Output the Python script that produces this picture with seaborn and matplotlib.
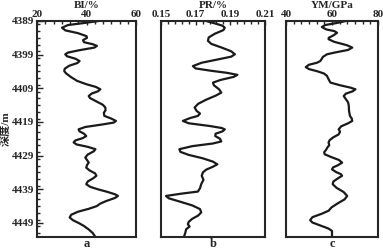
import numpy as np
import pandas as pd
import matplotlib
matplotlib.use("Agg")
import matplotlib.pyplot as plt
from matplotlib.ticker import AutoMinorLocator, MultipleLocator
import seaborn as sns

# depth readings (m) and log values
bi_depth = [4389.0, 4389.6, 4390.2, 4391.0, 4391.8, 4392.6, 4393.5, 4394.0, 4394.7, 4395.3,
            4395.9, 4396.4, 4396.9, 4397.7, 4398.4, 4398.9, 4399.5, 4400.2, 4400.9, 4401.5,
            4402.3, 4403.2, 4403.9, 4404.6, 4405.7, 4406.8, 4407.8, 4408.6, 4409.3, 4409.9,
            4410.6, 4411.3, 4411.9, 4412.9, 4413.9, 4414.7, 4415.5, 4416.3, 4417.2, 4418.0,
            4418.7, 4419.2, 4419.8, 4420.5, 4421.2, 4421.8, 4422.5, 4423.2, 4423.8, 4424.5,
            4425.1, 4425.7, 4426.4, 4427.1, 4427.7, 4428.7, 4429.6, 4430.3, 4431.1, 4431.8,
            4432.6, 4433.4, 4434.3, 4435.0, 4435.7, 4436.7, 4437.5, 4438.3, 4439.0, 4439.8,
            4440.5, 4441.0, 4441.6, 4442.5, 4443.3, 4444.0, 4444.8, 4445.7, 4446.6, 4447.4,
            4448.2, 4449.1, 4449.9, 4450.9, 4452.0, 4453.2]
bi_vals = [45.0, 39.0, 32.5, 30.1, 31.5, 36.5, 40.0, 40.2, 38.6, 39.0,
           42.5, 44.2, 43.2, 37.0, 32.5, 31.4, 32.2, 35.5, 37.2, 36.3,
           33.0, 31.2, 31.0, 31.8, 33.8, 36.2, 40.0, 43.8, 45.6, 44.6,
           42.0, 40.9, 41.4, 44.0, 46.6, 47.6, 47.7, 47.0, 47.2, 50.0,
           51.9, 51.0, 46.0, 39.5, 36.8, 37.2, 39.0, 39.9, 38.5, 35.5,
           34.8, 36.0, 40.5, 43.6, 43.0, 40.5, 39.5, 40.2, 40.9, 40.2,
           39.9, 41.2, 43.5, 44.0, 42.8, 40.5, 39.9, 41.5, 44.5, 48.5,
           51.5, 52.7, 51.5, 48.0, 45.5, 44.2, 41.0, 36.5, 33.8, 33.2,
           34.5, 37.0, 38.9, 40.8, 42.5, 43.6]

pr_depth = [4389.0, 4389.7, 4390.4, 4391.0, 4391.7, 4392.8, 4393.9, 4394.9, 4395.8, 4396.9,
            4398.0, 4398.9, 4399.6, 4400.4, 4401.4, 4402.4, 4403.1, 4403.8, 4404.4, 4405.0,
            4405.6, 4406.5, 4407.3, 4408.1, 4409.3, 4410.3, 4411.2, 4412.4, 4413.6, 4414.7,
            4415.7, 4416.5, 4417.2, 4417.9, 4418.7, 4419.4, 4420.2, 4420.8, 4421.2, 4421.8,
            4422.5, 4423.2, 4424.0, 4424.8, 4425.4, 4426.2, 4427.1, 4427.9, 4428.8, 4429.8,
            4430.8, 4431.6, 4432.3, 4433.2, 4434.0, 4435.0, 4436.2, 4437.5, 4438.7, 4439.7,
            4440.3, 4441.0, 4441.7, 4442.7, 4443.8, 4444.9, 4445.9, 4446.8, 4447.8, 4448.7,
            4449.4, 4450.1, 4450.9, 4452.0, 4453.2]
pr_vals = [0.1760, 0.1810, 0.1855, 0.1868, 0.1860, 0.1810, 0.1775, 0.1771, 0.1790, 0.1850,
           0.1905, 0.1926, 0.1905, 0.1830, 0.1735, 0.1684, 0.1700, 0.1790, 0.1880, 0.1941,
           0.1920, 0.1845, 0.1800, 0.1805, 0.1835, 0.1848, 0.1815, 0.1760, 0.1715, 0.1694,
           0.1705, 0.1725, 0.1713, 0.1665, 0.1626, 0.1660, 0.1780, 0.1850, 0.1868, 0.1855,
           0.1815, 0.1813, 0.1840, 0.1848, 0.1800, 0.1680, 0.1606, 0.1612, 0.1660, 0.1740,
           0.1800, 0.1825, 0.1800, 0.1760, 0.1742, 0.1735, 0.1745, 0.1732, 0.1725, 0.1713,
           0.1620, 0.1529, 0.1545, 0.1610, 0.1680, 0.1725, 0.1732, 0.1715, 0.1680, 0.1660,
           0.1655, 0.1665, 0.1645, 0.1640, 0.1632]

ym_depth = [4389.0, 4389.6, 4390.2, 4390.8, 4391.5, 4392.0, 4392.5, 4393.2, 4394.0, 4394.4,
            4395.2, 4396.2, 4396.9, 4397.6, 4398.4, 4398.9, 4399.7, 4400.3, 4400.9, 4401.4,
            4402.0, 4402.7, 4403.3, 4403.9, 4404.6, 4405.3, 4406.3, 4407.3, 4408.1, 4408.8,
            4409.3, 4409.9, 4410.6, 4411.3, 4412.2, 4413.2, 4414.2, 4415.7, 4417.2, 4418.0,
            4418.7, 4419.4, 4420.3, 4421.2, 4421.9, 4422.7, 4423.6, 4424.4, 4425.1, 4425.9,
            4426.6, 4427.3, 4428.0, 4428.6, 4429.4, 4430.3, 4431.1, 4431.9, 4432.5, 4433.1,
            4433.9, 4434.5, 4435.0, 4435.8, 4436.7, 4437.5, 4438.6, 4439.8, 4441.0, 4442.0,
            4443.2, 4444.4, 4445.4, 4446.3, 4447.3, 4448.2, 4448.9, 4449.8, 4450.7, 4451.4,
            4452.2, 4453.2]
ym_vals = [66.0, 62.0, 57.0, 55.6, 57.5, 61.0, 62.2, 60.8, 58.6, 58.5,
           61.0, 66.5, 68.8, 67.0, 61.0, 57.8, 56.0, 55.5, 54.9, 53.5,
           50.0, 48.6, 50.0, 53.4, 56.5, 57.8, 58.5, 59.3, 63.5, 68.0,
           70.2, 69.0, 66.0, 65.1, 66.0, 67.0, 67.3, 67.4, 67.8, 68.6,
           68.8, 67.0, 64.0, 62.9, 63.5, 62.9, 60.5, 59.0, 58.5, 58.8,
           58.0, 57.4, 56.6, 56.8, 59.5, 63.0, 64.4, 62.5, 60.5, 60.0,
           61.8, 63.8, 64.4, 62.5, 60.6, 60.3, 62.0, 65.0, 66.6, 65.5,
           62.5, 59.8, 58.5, 55.5, 51.5, 50.5, 51.5, 55.0, 58.5, 60.0,
           60.0, 60.0]

titles = ["BI/%", "PR/%", "YM/GPa"]
letters = ["a", "b", "c"]
xticks = [[20, 40, 60], [0.15, 0.17, 0.19, 0.21], [40, 60, 80]]
xlims = [(20, 60), (0.15, 0.21), (40, 80)]
minors = [6, 5, 6]
ytick_labels = [4389, 4399, 4409, 4419, 4429, 4439, 4449]

sns.set_style("ticks")
plt.rcParams["font.family"] = ["Liberation Serif", "Noto Sans CJK SC"]
plt.rcParams["font.weight"] = "bold"

fig = plt.figure(figsize=(3.83, 2.5), dpi=100)
W, H = 383, 250
boxes = [(37, 136), (161, 265), (286, 378)]
top, bot = 21, 237

series = [(bi_vals, bi_depth), (pr_vals, pr_depth), (ym_vals, ym_depth)]
for i, ((vals, depth), (x0, x1)) in enumerate(zip(series, boxes)):
    ax = fig.add_axes([x0 / W, 1 - bot / H, (x1 - x0) / W, (bot - top) / H])
    df = pd.DataFrame({"val": vals, "depth": depth})
    sns.lineplot(data=df, x="val", y="depth", sort=False, estimator=None,
                 color="#1a1a1a", lw=1.6, ax=ax)
    ax.set_xlim(*xlims[i])
    ax.set_ylim(4453.2, 4389)
    ax.xaxis.tick_top()
    ax.set_xticks(xticks[i])
    ax.set_xticklabels([f"{t:g}" if i != 1 else f"{t:.2f}" for t in xticks[i]])
    ax.xaxis.set_minor_locator(AutoMinorLocator(minors[i]))
    ax.set_xlabel("")
    ax.tick_params(axis="x", which="both", direction="in", pad=1.5, labelsize=8)
    ax.tick_params(axis="x", which="major", length=3, width=1)
    ax.tick_params(axis="x", which="minor", length=2.5, width=1)
    if i == 0:
        ax.set_yticks(ytick_labels)
        ax.yaxis.set_minor_locator(MultipleLocator(2))
        ax.tick_params(axis="y", which="both", direction="in", pad=2, labelsize=8)
        ax.tick_params(axis="y", which="major", length=4, width=1)
        ax.tick_params(axis="y", which="minor", length=2.5, width=1)
        ax.set_ylabel("深度/m", fontsize=8, fontweight="bold", labelpad=1)
    else:
        ax.set_yticks([])
        ax.set_ylabel("")
    for s in ax.spines.values():
        s.set_linewidth(1.5)
        s.set_visible(True)
    fig.text((x0 + x1) / 2 / W, 1 - 5 / H, titles[i], ha="center", va="center",
             fontsize=8, fontweight="bold")
    fig.text((x0 + x1) / 2 / W, 1 - 244 / H, letters[i], ha="center", va="center",
             fontsize=9, fontweight="bold")

fig.savefig("out.png", dpi=100)
